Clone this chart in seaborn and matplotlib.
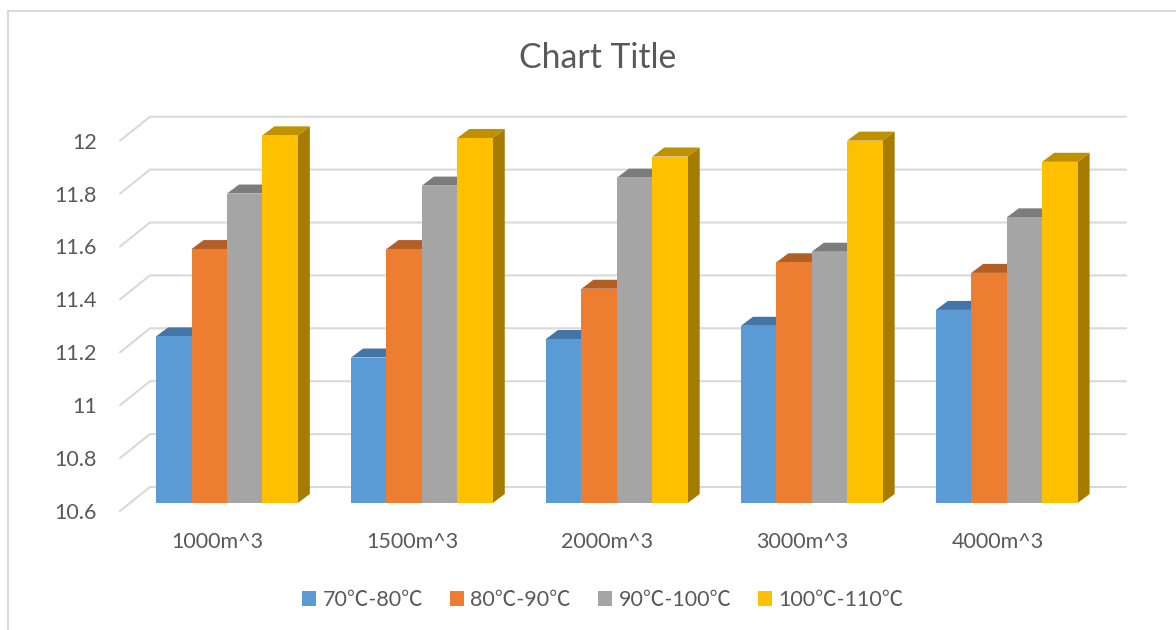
import matplotlib
matplotlib.use("Agg")
import matplotlib.pyplot as plt
import pandas as pd
import seaborn as sns
from matplotlib.lines import Line2D
from matplotlib.patches import Polygon
from matplotlib.transforms import IdentityTransform

# Data
categories = ["1000m^3", "1500m^3", "2000m^3", "3000m^3", "4000m^3"]
series_names = ["70℃-80℃", "80℃-90℃", "90℃-100℃", "100℃-110℃"]
series_70_80 = [11.23, 11.15, 11.22, 11.27, 11.33]
series_80_90 = [11.56, 11.56, 11.41, 11.51, 11.47]
series_90_100 = [11.77, 11.80, 11.83, 11.55, 11.68]
series_100_110 = [11.99, 11.98, 11.91, 11.97, 11.89]
y_ticks = [10.6, 10.8, 11.0, 11.2, 11.4, 11.6, 11.8, 12.0]
y_tick_labels = ["10.6", "10.8", "11", "11.2", "11.4", "11.6", "11.8", "12"]

front_colors = ["#5B9BD5", "#ED7D31", "#A5A5A5", "#FFC000"]
top_colors = ["#4476A5", "#B25E25", "#7C7C7C", "#BF9000"]
side_colors = ["#375F85", "#8F4B1D", "#636363", "#A67C00"]
grid_color = "#D9D9D9"
text_color = "#595959"

W, H = 1176, 630
FONT = ["Lato", "Noto Sans CJK SC", "DejaVu Sans"]

sns.set_theme(style="white")
plt.rcParams["font.family"] = FONT

frame = pd.DataFrame(
    {
        "capacity": categories * 4,
        "range": [name for name in series_names for _ in categories],
        "value": series_70_80 + series_80_90 + series_90_100 + series_100_110,
    }
)


def px_axes(fig, left, right, top, bottom, **kwargs):
    """Add axes from pixel edges measured from the top-left corner."""
    return fig.add_axes(
        [left / W, 1 - bottom / H, (right - left) / W, (bottom - top) / H], **kwargs
    )


fig = plt.figure(figsize=(W / 100, H / 100), dpi=100, facecolor="white")

# Chart area border: only the top and left edges are present
fig.add_artist(Line2D([8 / W, 8 / W], [0, 1 - 11 / H], color=grid_color, lw=1.5))
fig.add_artist(Line2D([8 / W, 1], [1 - 11 / H, 1 - 11 / H], color=grid_color, lw=1.5))

# Wall plane: carries the axis labels, back gridlines and the left-wall diagonals
wall = px_axes(fig, 120, 1095, 140.7, 511, zorder=0)
wall.set_xlim(-0.5, 4.5)
wall.set_ylim(10.6, 12)
wall.set_xticks(range(len(categories)), categories)
wall.set_yticks(y_ticks, y_tick_labels)
wall.tick_params(axis="both", length=0, labelsize=15.5, labelcolor=text_color)
wall.tick_params(axis="x", pad=15)
wall.tick_params(axis="y", pad=16.5)
wall.patch.set_visible(False)
sns.despine(ax=wall, left=True, bottom=True)

WALL_DX, WALL_DY = 30, 24
fig.canvas.draw()
for tick in y_ticks:
    x0, y0 = wall.transData.transform((-0.5, tick))
    x1 = x0 + WALL_DX
    y1 = y0 + WALL_DY
    x2 = x0 + 1006
    wall.add_line(
        Line2D(
            [x0, x1, x2],
            [y0, y1, y1],
            color=grid_color,
            lw=1.5,
            transform=IdentityTransform(),
            clip_on=False,
            solid_joinstyle="miter",
        )
    )

# Bar plane: seaborn draws the front faces of the columns
ax = px_axes(fig, 129.5, 1104.2, 132.7, 503, zorder=1)
sns.barplot(
    data=frame,
    x="capacity",
    y="value",
    hue="range",
    hue_order=series_names,
    palette=front_colors,
    saturation=1,
    width=0.727,
    gap=0,
    linewidth=0,
    ax=ax,
    zorder=3,
)
ax.set_xlim(-0.5, 4.5)
ax.set_ylim(10.6, 12)
ax.patch.set_visible(False)
ax.set_axis_off()

# Extruded top and side faces derived from each drawn bar
DEPTH_DX, DEPTH_DY = 12, 9
for s, container in enumerate(ax.containers):
    for bar in container:
        left = bar.get_x()
        right = left + bar.get_width()
        xl, yt = ax.transData.transform((left, bar.get_height()))
        xr, yb = ax.transData.transform((right, 10.6))
        top_face = [
            (xl, yt),
            (xr, yt),
            (xr + DEPTH_DX, yt + DEPTH_DY),
            (xl + DEPTH_DX, yt + DEPTH_DY),
        ]
        side_face = [
            (xr, yb),
            (xr + DEPTH_DX, yb + DEPTH_DY),
            (xr + DEPTH_DX, yt + DEPTH_DY),
            (xr, yt),
        ]
        for verts, color in ((side_face, side_colors[s]), (top_face, top_colors[s])):
            ax.add_patch(
                Polygon(
                    verts,
                    closed=True,
                    facecolor=color,
                    edgecolor="none",
                    transform=IdentityTransform(),
                    clip_on=False,
                    zorder=2,
                )
            )

sns.move_legend(
    ax,
    "center",
    bbox_to_anchor=(603 / W, 1 - 600 / H),
    bbox_transform=fig.transFigure,
    ncol=4,
    title=None,
    frameon=False,
    fontsize=15.5,
    labelcolor=text_color,
    handlelength=0.65,
    handleheight=0.65,
    handletextpad=0.3,
    columnspacing=1.25,
    borderpad=0,
)

fig.text(
    598 / W,
    1 - 58 / H,
    "Chart Title",
    ha="center",
    va="center",
    fontsize=24.3,
    color=text_color,
)

fig.savefig("out.png", dpi=100, facecolor="white")
